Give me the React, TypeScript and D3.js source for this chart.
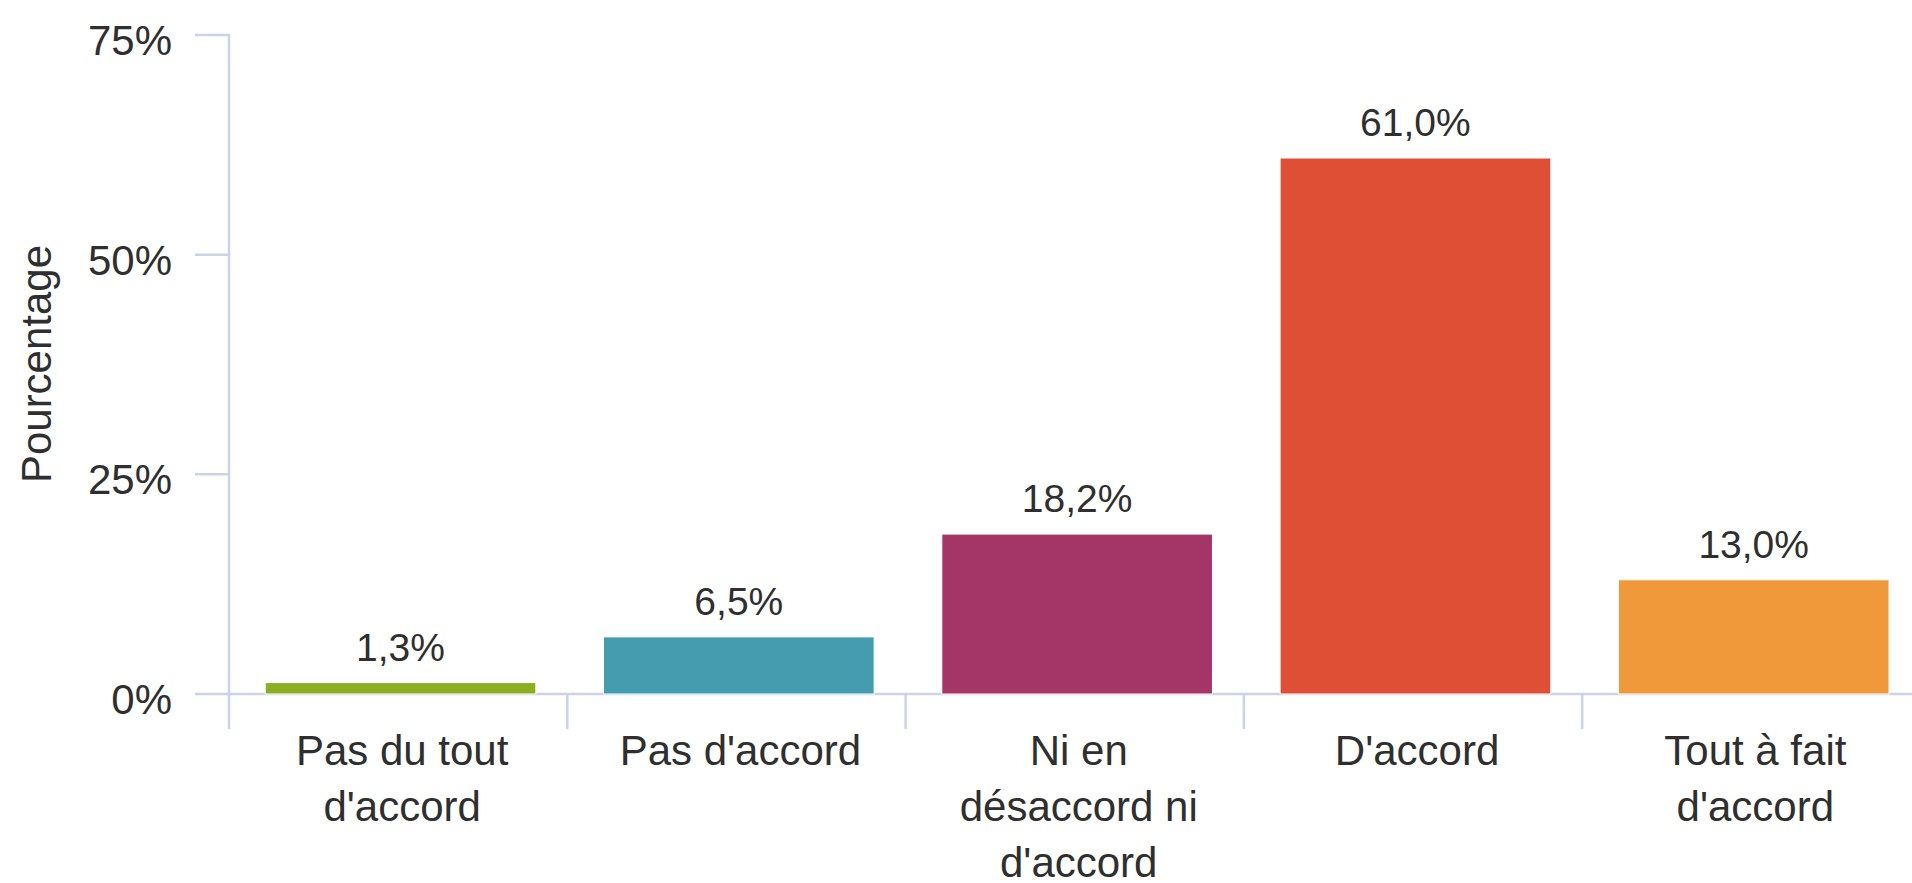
import * as d3 from 'd3';
import React, { useEffect, useRef } from 'react';

const categories = ['Pas du tout d\'accord', 'Pas d\'accord', 'Ni en désaccord ni d\'accord', 'D\'accord', 'Tout à fait d\'accord'];
const categoryLines = [['Pas du tout', 'd\'accord'], ['Pas d\'accord'], ['Ni en', 'désaccord ni', 'd\'accord'], ['D\'accord'], ['Tout à fait', 'd\'accord']];
const values = [1.3, 6.5, 18.2, 61.0, 13.0];
const valueLabels = ['1,3%', '6,5%', '18,2%', '61,0%', '13,0%'];
const colors = ['#8bb01f', '#459cae', '#a33667', '#df4f36', '#f0993b'];
const yTicks = [0, 25, 50, 75];
const yTitle = 'Pourcentage';

const width = 1912;
const height = 883;
const font = '"Liberation Sans", Arial, sans-serif';

export default function App() {
  const ref = useRef<SVGSVGElement>(null);

  useEffect(() => {
    drawChart();
  }, []);

  function drawChart() {
    const svg = d3.select(ref.current);
    svg.selectAll('*').remove();

    const left = 229;
    const step = 338.3;
    const x = d3.scaleBand()
      .domain(categories)
      .range([left, left + step * categories.length]);

    const y = d3.scaleLinear()
      .domain([0, 75])
      .range([694, 35]);

    const axisColor = '#c9d4ea';

    // y axis line + ticks
    svg.append('line')
      .attr('x1', left).attr('x2', left)
      .attr('y1', y(75) - 1).attr('y2', y(0))
      .attr('stroke', axisColor).attr('stroke-width', 2.5);

    svg.selectAll('.ytick')
      .data(yTicks)
      .enter()
      .append('line')
      .attr('x1', left - 34).attr('x2', left)
      .attr('y1', d => y(d)).attr('y2', d => y(d))
      .attr('stroke', axisColor).attr('stroke-width', 2.5);

    svg.selectAll('.ylabel')
      .data(yTicks)
      .enter()
      .append('text')
      .attr('x', left - 57)
      .attr('y', d => y(d) + 20)
      .attr('text-anchor', 'end')
      .attr('font-size', 42)
      .attr('font-family', font)
      .attr('fill', '#2f2f2f')
      .text(d => d + '%');

    svg.append('text')
      .attr('transform', 'translate(51,' + 364 + ') rotate(-90)')
      .attr('text-anchor', 'middle')
      .attr('font-size', 42)
      .attr('font-family', font)
      .attr('fill', '#2f2f2f')
      .text(yTitle);

    // x axis line + ticks
    svg.append('line')
      .attr('x1', left).attr('x2', width)
      .attr('y1', y(0)).attr('y2', y(0))
      .attr('stroke', axisColor).attr('stroke-width', 2.5);

    const bounds = categories.map(c => x(c) as number).concat([x.range()[1]]);
    svg.selectAll('.xtick')
      .data(bounds)
      .enter()
      .append('line')
      .attr('x1', d => d).attr('x2', d => d)
      .attr('y1', y(0)).attr('y2', y(0) + 35)
      .attr('stroke', axisColor).attr('stroke-width', 2.5);

    // bars
    const bw = x.bandwidth() * 0.8;
    const off = x.bandwidth() * 0.107;
    svg.selectAll('rect')
      .data(values)
      .enter()
      .append('rect')
      .attr('x', (d, i) => (x(categories[i]) as number) + off)
      .attr('y', d => y(d))
      .attr('width', bw)
      .attr('height', d => y(0) - y(d))
      .attr('fill', (d, i) => colors[i])
      .attr('stroke', '#ffffff')
      .attr('stroke-width', 1);

    // value labels
    svg.selectAll('.vlabel')
      .data(values)
      .enter()
      .append('text')
      .attr('x', (d, i) => (x(categories[i]) as number) + off + bw / 2)
      .attr('y', d => y(d) - 22)
      .attr('text-anchor', 'middle')
      .attr('font-size', 39)
      .attr('font-family', font)
      .attr('fill', '#2f2f2f')
      .text((d, i) => valueLabels[i]);

    // category labels
    const cl = svg.selectAll('.clabel')
      .data(categories)
      .enter()
      .append('text')
      .attr('text-anchor', 'middle')
      .attr('font-size', 42)
      .attr('font-family', font)
      .attr('fill', '#2f2f2f');

    cl.each(function (c, i) {
      const cx = (x(c) as number) + x.bandwidth() / 2 + 4;
      d3.select(this).selectAll('tspan')
        .data(categoryLines[i])
        .enter()
        .append('tspan')
        .attr('x', cx)
        .attr('y', (d, j) => 765 + j * 56)
        .text(d => d);
    });
  }

  return <svg ref={ref} width={width} height={height}
    style={{ position: 'absolute', left: 0, top: 0, background: '#ffffff' }} />;
}
